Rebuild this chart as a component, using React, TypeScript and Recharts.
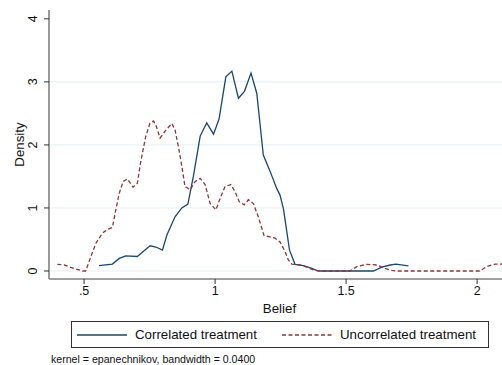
import React from 'react';
import { LineChart, Line, XAxis, YAxis, ReferenceLine, Legend } from 'recharts';

const corrX = [0.557, 0.608, 0.634, 0.659, 0.703, 0.729, 0.752, 0.774, 0.799, 0.816, 0.847, 0.873, 0.896, 0.917, 0.943, 0.968, 0.994, 1.015, 1.041, 1.064, 1.089, 1.112, 1.137, 1.159, 1.184, 1.21, 1.235, 1.248, 1.261, 1.284, 1.305, 1.337, 1.369, 1.394, 1.604, 1.636, 1.668, 1.69, 1.738];
const corrY = [0.085, 0.11, 0.2, 0.24, 0.23, 0.32, 0.4, 0.38, 0.33, 0.57, 0.86, 1.0, 1.06, 1.5, 2.14, 2.35, 2.17, 2.41, 3.08, 3.17, 2.74, 2.85, 3.14, 2.82, 1.84, 1.58, 1.31, 1.2, 0.98, 0.33, 0.106, 0.085, 0.04, 0, 0, 0.06, 0.095, 0.11, 0.08];

const uncX = [0.398, 0.424, 0.462, 0.494, 0.506, 0.526, 0.545, 0.57, 0.589, 0.608, 0.621, 0.634, 0.649, 0.665, 0.687, 0.703, 0.716, 0.735, 0.751, 0.765, 0.776, 0.79, 0.809, 0.835, 0.847, 0.86, 0.873, 0.885, 0.905, 0.924, 0.943, 0.962, 0.981, 1.003, 1.019, 1.038, 1.06, 1.076, 1.092, 1.111, 1.127, 1.146, 1.165, 1.187, 1.21, 1.229, 1.248, 1.267, 1.28, 1.293, 1.324, 1.35, 1.375, 1.4, 1.515, 1.541, 1.579, 1.617, 1.649, 1.674, 1.69, 2.01, 2.037, 2.069, 2.095];
const uncY = [0.106, 0.095, 0.04, 0, 0, 0.23, 0.44, 0.6, 0.66, 0.69, 0.97, 1.23, 1.42, 1.46, 1.33, 1.39, 1.73, 2.13, 2.34, 2.38, 2.29, 2.11, 2.22, 2.34, 2.24, 1.97, 1.66, 1.34, 1.29, 1.42, 1.47, 1.37, 1.07, 0.97, 1.15, 1.34, 1.37, 1.26, 1.1, 1.05, 1.13, 1.07, 0.86, 0.56, 0.54, 0.52, 0.46, 0.31, 0.17, 0.11, 0.095, 0.06, 0.016, 0, 0, 0.07, 0.106, 0.095, 0.04, 0.01, 0, 0, 0.07, 0.11, 0.11];

const xTicks = [0.5, 1, 1.5, 2];
const xTickLabels = ['.5', '1', '1.5', '2'];
const yTicks = [0, 1, 2, 3, 4];
const gridValues = [0, 1, 2, 3];

const seriesNames = ['Correlated treatment', 'Uncorrelated treatment'];
const captionText = 'kernel = epanechnikov, bandwidth = 0.0400';

const corrData = corrX.map((x, i) => ({ x, y: corrY[i] }));
const uncData = uncX.map((x, i) => ({ x, y: uncY[i] }));

const FONT = '"Liberation Sans", Arial, Helvetica, sans-serif';
const BLUE = '#1a476f';
const RED = '#90353b';
const AXIS = '#808080';

const XTick = (props: any) => {
  const { x, y, payload } = props;
  const idx = xTicks.indexOf(payload.value);
  return (
    <text x={x} y={y} dy="0.71em" textAnchor="middle" fontSize={12.5} fontFamily={FONT} fill="#111">
      {idx >= 0 ? xTickLabels[idx] : payload.value}
    </text>
  );
};

const YTick = (props: any) => {
  const { x, y, payload } = props;
  return (
    <text x={x} y={y} textAnchor="middle" dominantBaseline="central" transform={`rotate(-90 ${x} ${y})`} fontSize={12.5} fontFamily={FONT} fill="#111">
      {String(payload.value)}
    </text>
  );
};

const LegendBox = (props: any) => {
  const payload = props.payload || [];
  return (
    <div style={{ position: 'absolute', left: 71, top: 321, width: 418, height: 27, border: '1px solid #333', boxSizing: 'border-box', display: 'flex', alignItems: 'center', fontFamily: FONT, fontSize: 13.3, color: '#111', background: '#fff' }}>
      {payload.map((p: any, i: number) => (
        <div key={i} style={{ width: 205, paddingLeft: 5, display: 'flex', alignItems: 'center', boxSizing: 'border-box' }}>
          <svg width={50} height={6} style={{ marginRight: 8 }}>
            <line x1={0} y1={3} x2={50} y2={3} stroke={p.color} strokeWidth={1.3} strokeDasharray={i === 1 ? '4 2.5' : undefined} />
          </svg>
          <span style={{ whiteSpace: 'nowrap' }}>{p.value}</span>
        </div>
      ))}
    </div>
  );
};

export default function App() {
  return (
    <div style={{ position: 'absolute', left: 0, top: 0, width: 502, height: 365, background: '#fff' }}>
      <LineChart width={502} height={365} margin={{ top: 10, right: 0, bottom: 0, left: 0 }}>
        <XAxis
          dataKey="x"
          type="number"
          domain={[0.366, 2.095]}
          allowDataOverflow
          ticks={xTicks}
          tick={<XTick />}
          tickSize={5}
          tickMargin={2}
          height={86}
          axisLine={{ stroke: AXIS, strokeWidth: 1.6 }}
          tickLine={{ stroke: '#333' }}
          label={(p: any) => {
            const vb = p.viewBox || { x: 49, y: 279, width: 453 };
            return (
              <text x={vb.x + vb.width / 2 + 4} y={vb.y + 29} textAnchor="middle" dominantBaseline="central" fontSize={13.3} fontFamily={FONT} fill="#111">Belief</text>
            );
          }}
        />
        <YAxis
          type="number"
          domain={[-0.127, 4.14]}
          allowDataOverflow
          ticks={yTicks}
          tick={<YTick />}
          tickSize={5}
          tickMargin={11}
          width={49}
          axisLine={{ stroke: AXIS, strokeWidth: 1.6 }}
          tickLine={{ stroke: '#333' }}
          label={(p: any) => {
            const vb = p.viewBox || { x: 0, y: 10, width: 49, height: 269 };
            const cy = vb.y + vb.height / 2;
            return (
              <text x={19} y={cy} textAnchor="middle" dominantBaseline="central" transform={`rotate(-90 19 ${cy})`} fontSize={13.3} fontFamily={FONT} fill="#111">Density</text>
            );
          }}
        />
        {gridValues.map((g) => (
          <ReferenceLine key={g} y={g} stroke="#e6eff1" strokeWidth={1} ifOverflow="hidden" />
        ))}
        <Line data={corrData} dataKey="y" name={seriesNames[0]} type="linear" stroke={BLUE} strokeWidth={1.3} dot={false} isAnimationActive={false} />
        <Line data={uncData} dataKey="y" name={seriesNames[1]} type="linear" stroke={RED} strokeWidth={1.3} strokeDasharray="4 2.5" dot={false} isAnimationActive={false} />
        <Legend layout="horizontal" verticalAlign="middle" align="center" content={<LegendBox />} wrapperStyle={{ position: 'absolute', left: 0, top: 0, width: 0, height: 0 }} />
      </LineChart>
      <div style={{ position: 'absolute', left: 51, top: 353, fontFamily: FONT, fontSize: 10.6, color: '#111', whiteSpace: 'nowrap' }}>{captionText}</div>
    </div>
  );
}
